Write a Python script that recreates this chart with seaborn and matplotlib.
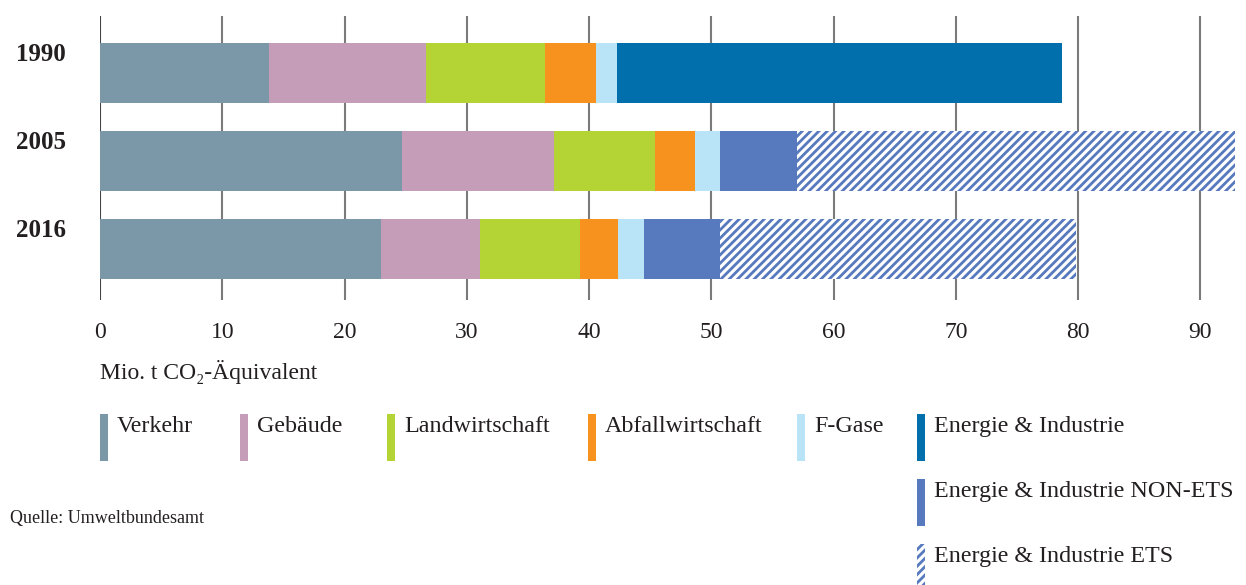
import matplotlib
matplotlib.use("Agg")
import matplotlib.pyplot as plt
import matplotlib.transforms as mtransforms
from matplotlib.patches import Rectangle
import numpy as np
import seaborn as sns

# Daten (Mio. t CO2-Äquivalent)
years = ["1990", "2005", "2016"]
verkehr = [13.8, 24.7, 23.0]
gebaeude = [12.9, 12.4, 8.1]
landwirtschaft = [9.7, 8.3, 8.2]
abfall = [4.2, 3.3, 3.1]
f_gase = [1.7, 2.0, 2.1]
energie = [36.4, 0.0, 0.0]
non_ets = [0.0, 6.3, 6.2]
ets = [0.0, 35.8, 29.1]

labels = ["Verkehr", "Gebäude", "Landwirtschaft", "Abfallwirtschaft", "F-Gase",
          "Energie & Industrie", "Energie & Industrie NON-ETS", "Energie & Industrie ETS"]
colors = ["#7b98a9", "#c69db8", "#b4d334", "#f7921e", "#b9e4f8",
          "#026fad", "#5779be", "#5779be"]
series = [verkehr, gebaeude, landwirtschaft, abfall, f_gase, energie, non_ets, ets]

sns.set_theme(style="white")
plt.rcParams["font.family"] = ["Liberation Serif", "DejaVu Serif"]
plt.rcParams["hatch.linewidth"] = 2.0
HATCH = "////"

W, H = 1246, 585
fig = plt.figure(figsize=(W / 100, H / 100), dpi=100, facecolor="white")
ax = fig.add_axes([100 / W, 1 - 300 / H, 1137 / W, 284 / H])

bar_h = 0.68
cum = np.cumsum(np.array(series), axis=0)

# gestapelt: von hinten nach vorne übermalen
for k in range(len(series) - 1, -1, -1):
    n_before = len(ax.patches)
    sns.barplot(x=cum[k], y=years, orient="h", color=colors[k], saturation=1,
                width=bar_h, ax=ax, linewidth=0)
    if k == len(series) - 1:
        for p in ax.patches[n_before:]:
            p.set_facecolor("white")
            p.set_edgecolor(colors[k])
            p.set_hatch(HATCH)
            p.set_linewidth(0)

ax.set_xlim(0, 93)
ax.set_ylim(2.574, -0.648)
ax.set_xticks(np.arange(0, 100, 10))
ax.set_axisbelow(True)
ax.xaxis.grid(True, color="#7a7a7a", linewidth=1.5)
ax.yaxis.grid(False)
ax.get_xgridlines()[0].set_color("#444444")
for s in ax.spines.values():
    s.set_visible(False)
ax.set_xlabel("")
ax.set_ylabel("")
ax.tick_params(axis="x", length=0, pad=16, labelsize=17, colors="#231f20")
ax.set_yticks([])

trans = mtransforms.blended_transform_factory(fig.transFigure, ax.transData)
for i, yr in enumerate(years):
    ax.text(66 / W, i - bar_h / 2 + 0.0, yr, transform=trans, ha="right", va="top",
            fontsize=18, fontweight="bold", color="#231f20")

def fx(x):
    return x / W

def fy(y):
    return 1 - y / H

fig.text(fx(100), fy(372), "Mio. t CO₂-Äquivalent", fontsize=17, color="#231f20",
         va="center", ha="left")

# Legende
leg_pos = [(100, 414), (240, 414), (387, 414), (588, 414), (797, 414),
           (917, 414), (917, 479), (917, 544)]
for (x, y), lab, c, k in zip(leg_pos, labels, colors, range(len(labels))):
    if k == len(labels) - 1:
        r = Rectangle((fx(x), fy(y + 47)), 8 / W, 47 / H, transform=fig.transFigure,
                      facecolor="white", edgecolor=c, hatch=HATCH, linewidth=0)
    else:
        r = Rectangle((fx(x), fy(y + 47)), 8 / W, 47 / H, transform=fig.transFigure,
                      facecolor=c, linewidth=0)
    fig.add_artist(r)
    fig.text(fx(x + 17), fy(y + 18), lab, fontsize=17.3, color="#231f20",
             ha="left", va="baseline")

fig.text(fx(10), fy(518), "Quelle: Umweltbundesamt", fontsize=13, color="#231f20",
         ha="left", va="center")

fig.savefig("out.png", dpi=100, facecolor="white")
